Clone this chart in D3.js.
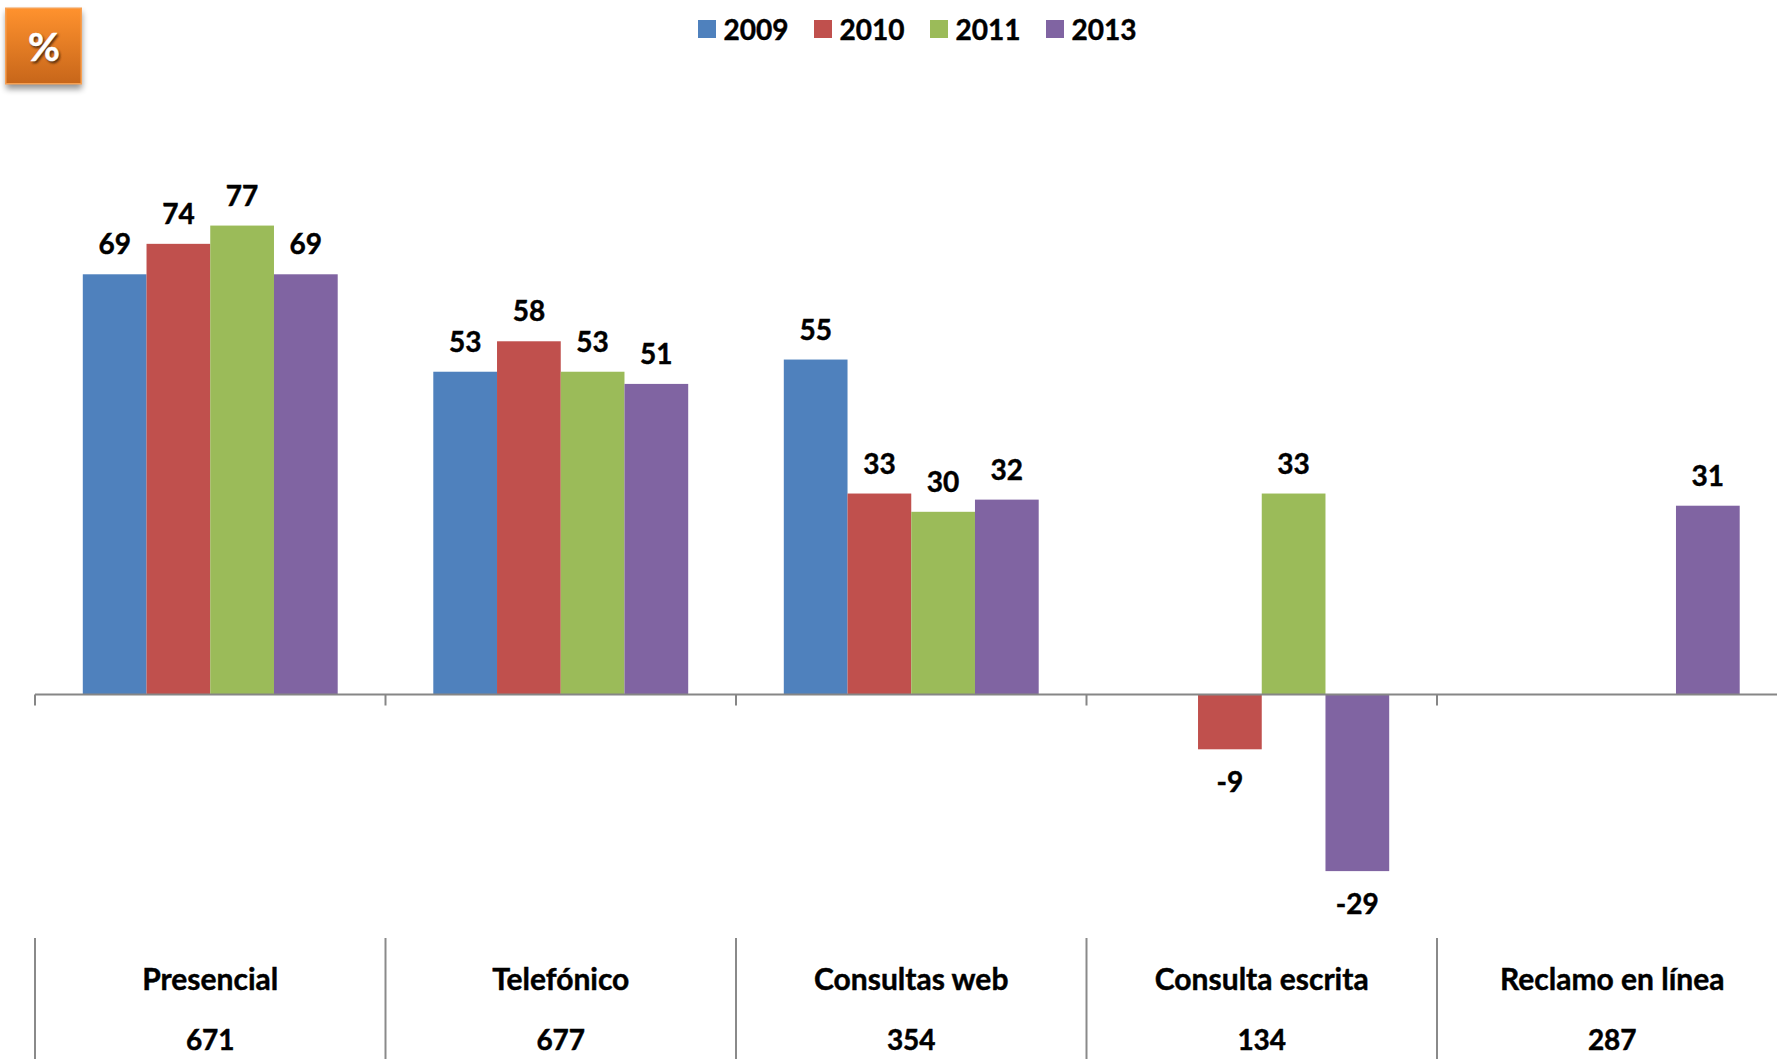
<!DOCTYPE html>
<html lang="es">
<head>
<meta charset="utf-8">
<title>Canales de atención</title>
<script src="https://cdn.jsdelivr.net/npm/d3@7/dist/d3.min.js"></script>
<style>
  html, body { margin: 0; padding: 0; background: #fff; overflow: hidden; }
  svg { display: block; }
  text { font-family: Lato, "Open Sans", sans-serif; font-weight: 700; fill: #000; stroke: #000; stroke-width: 0.45px; }
</style>
</head>
<body>
<div id="chart"></div>
<script>
// Channels and their respondent counts
const categories = ["Presencial", "Telefónico", "Consultas web", "Consulta escrita", "Reclamo en línea"];
const counts = [671, 677, 354, 134, 287];

// Percentages per year; null where the channel has no figure
const years = ["2009", "2010", "2011", "2013"];
const values2009 = [69, 53, 55, null, null];
const values2010 = [74, 58, 33, -9, null];
const values2011 = [77, 53, 30, 33, null];
const values2013 = [69, 51, 32, -29, 31];
const seriesValues = [values2009, values2010, values2011, values2013];
const colors = ["#4F81BD", "#C0504D", "#9BBB59", "#8064A2"];

const width = 1777, height = 1059;
const plotLeft = 35, categoryWidth = 350.5;
const axisY = 694.5, unit = 6.09;

const svg = d3.select("#chart").append("svg")
  .attr("width", width).attr("height", height)
  .attr("viewBox", `0 0 ${width} ${height}`);

const defs = svg.append("defs");
const grad = defs.append("linearGradient").attr("id", "badgeFill")
  .attr("x1", 0).attr("y1", 0).attr("x2", 0).attr("y2", 1);
grad.append("stop").attr("offset", "0%").attr("stop-color", "#FF922E");
grad.append("stop").attr("offset", "100%").attr("stop-color", "#C7661A");
const blur = defs.append("filter").attr("id", "badgeShadow")
  .attr("x", "-20%").attr("y", "-20%").attr("width", "140%").attr("height", "150%");
blur.append("feGaussianBlur").attr("stdDeviation", 3);
const textBlur = defs.append("filter").attr("id", "glyphShadow");
textBlur.append("feGaussianBlur").attr("stdDeviation", 0.8);

// Scales: one band per channel, one sub-band per year
const x = d3.scaleBand()
  .domain(categories)
  .range([plotLeft, plotLeft + categoryWidth * categories.length]);
const xYear = d3.scaleBand()
  .domain(years)
  .range([0, x.bandwidth()])
  .paddingOuter(0.75)
  .paddingInner(0);
const y = d3.scaleLinear()
  .domain([-40, 90])
  .range([axisY + 40 * unit, axisY - 90 * unit]);

// Bars, one group per year
const rows = years.map((year, s) => ({
  year, color: colors[s],
  points: categories.map((c, i) => ({ category: c, value: seriesValues[s][i] })).filter(d => d.value !== null)
}));

const groups = svg.append("g").selectAll("g").data(rows).join("g");
groups.selectAll("rect")
  .data(r => r.points.map(p => ({ ...p, year: r.year, color: r.color })))
  .join("rect")
  .attr("x", d => x(d.category) + xYear(d.year))
  .attr("width", xYear.bandwidth())
  .attr("y", d => Math.min(y(d.value), y(0)))
  .attr("height", d => Math.abs(y(d.value) - y(0)))
  .attr("fill", d => d.color);

// Category axis crossing at zero, ticks between channels
const tickPositions = categories.map(c => x(c)).concat(x.range()[1]);
const axis = svg.append("g");
axis.append("line")
  .attr("x1", plotLeft).attr("x2", x.range()[1])
  .attr("y1", y(0)).attr("y2", y(0))
  .attr("stroke", "#868686").attr("stroke-width", 2);
axis.selectAll("line.tick").data(tickPositions).join("line")
  .attr("class", "tick")
  .attr("x1", d => d).attr("x2", d => d)
  .attr("y1", y(0)).attr("y2", y(0) + 11)
  .attr("stroke", "#868686").attr("stroke-width", 2);

// Value labels above positive bars and below negative ones
groups.selectAll("text")
  .data(r => r.points.map(p => ({ ...p, year: r.year })))
  .join("text")
  .attr("x", d => x(d.category) + xYear(d.year) + xYear.bandwidth() / 2)
  .attr("y", d => d.value < 0 ? y(d.value) + 42.5 : y(d.value) - 20)
  .attr("text-anchor", "middle")
  .attr("font-size", 28)
  .text(d => d.value);

// Table under the plot: separators, channel names and counts
const table = svg.append("g");
table.selectAll("line").data(tickPositions).join("line")
  .attr("x1", d => d).attr("x2", d => d)
  .attr("y1", 938).attr("y2", height)
  .attr("stroke", "#8A8A8A").attr("stroke-width", 2);
table.selectAll("text.name").data(categories).join("text")
  .attr("class", "name")
  .attr("x", d => x(d) + x.bandwidth() / 2)
  .attr("y", 989.5)
  .attr("text-anchor", "middle")
  .attr("font-size", 30)
  .text(d => d);
table.selectAll("text.count").data(counts).join("text")
  .attr("class", "count")
  .attr("x", (d, i) => x(categories[i]) + x.bandwidth() / 2)
  .attr("y", 1050)
  .attr("text-anchor", "middle")
  .attr("font-size", 28)
  .text(d => d);

// Legend
const legendX = d3.scalePoint().domain(years).range([698, 1046]);
const legend = svg.append("g").selectAll("g").data(rows).join("g")
  .attr("transform", d => `translate(${legendX(d.year)},20)`);
legend.append("rect").attr("width", 18).attr("height", 18).attr("fill", d => d.color);
legend.append("text").attr("x", 25.5).attr("y", 19.5).attr("font-size", 28).text(d => d.year);

// Percent badge in the corner
const badge = svg.append("g");
badge.append("rect")
  .attr("x", 6).attr("y", 12).attr("width", 76).attr("height", 77)
  .attr("fill", "#000").attr("opacity", 0.42).attr("filter", "url(#badgeShadow)");
badge.append("rect")
  .attr("x", 5.75).attr("y", 8.25).attr("width", 75.5).attr("height", 75.5)
  .attr("fill", "url(#badgeFill)").attr("stroke", "#F7A052").attr("stroke-width", 1.5);
badge.append("text")
  .attr("x", 45.5).attr("y", 62.5).attr("text-anchor", "middle").attr("font-size", 39)
  .style("fill", "#5a3010").style("stroke", "#5a3010").attr("filter", "url(#glyphShadow)").text("%");
badge.append("text")
  .attr("x", 44).attr("y", 61).attr("text-anchor", "middle").attr("font-size", 39)
  .style("fill", "#fff").style("stroke", "#fff").text("%");
</script>
</body>
</html>
